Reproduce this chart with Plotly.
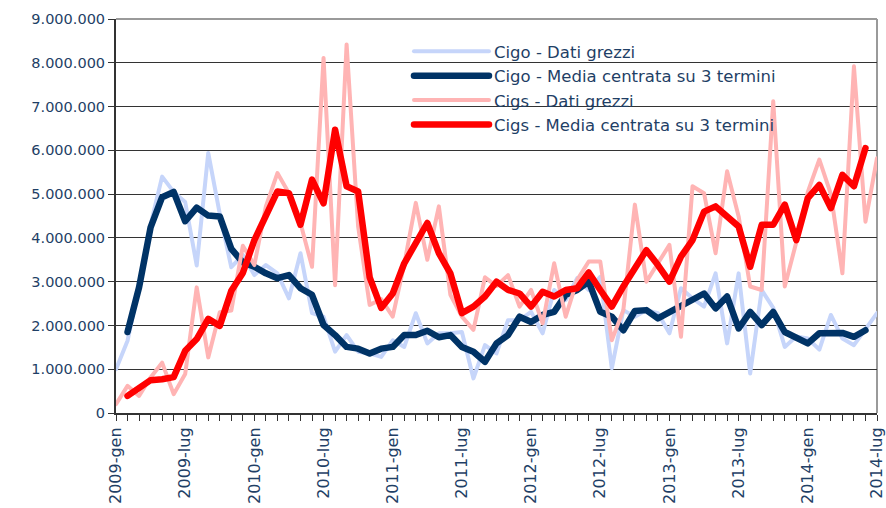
import plotly.graph_objects as go

mesi = ["gen", "feb", "mar", "apr", "mag", "giu", "lug", "ago", "set", "ott", "nov", "dic"]
categories = [f"{2009 + i // 12}-{mesi[i % 12]}" for i in range(67)]
tick_labels = [c if c.endswith("-gen") or c.endswith("-lug") else "" for c in categories]

cigo_raw = [1.0, 1.65, 2.9, 4.3, 5.4, 5.05, 4.82, 3.37, 5.94, 4.55, 3.33, 3.61,
            3.15, 3.38, 3.19, 2.62, 3.65, 2.28, 2.2, 1.4, 1.78, 1.4, 1.36, 1.28,
            1.66, 1.51, 2.28, 1.59, 1.82, 1.82, 1.85, 0.79, 1.55, 1.36, 2.12, 2.12,
            2.31, 1.82, 2.81, 2.58, 3.08, 2.81, 3.11, 1.02, 2.35, 2.2, 2.35, 2.28,
            1.82, 2.85, 2.62, 2.43, 3.19, 1.59, 3.19, 0.9, 2.81, 2.4, 1.51, 1.75,
            1.7, 1.45, 2.24, 1.70, 1.55, 1.93, 2.28]
cigo_ma = [None, 1.85, 2.87, 4.24, 4.93, 5.05, 4.38, 4.69, 4.51, 4.49, 3.75, 3.44,
           3.34, 3.19, 3.08, 3.15, 2.85, 2.7, 2.01, 1.78, 1.51, 1.47, 1.36, 1.47,
           1.51, 1.78, 1.78, 1.88, 1.73, 1.78, 1.51, 1.40, 1.17, 1.59, 1.78, 2.2,
           2.08, 2.24, 2.31, 2.7, 2.81, 3.0, 2.31, 2.2, 1.89, 2.33, 2.35, 2.16,
           2.31, 2.47, 2.62, 2.73, 2.39, 2.66, 1.93, 2.31, 2.01, 2.31, 1.85, 1.74,
           1.59, 1.82, 1.82, 1.83, 1.74, 1.89, None]
cigs_raw = [0.2, 0.62, 0.39, 0.81, 1.15, 0.43, 0.89, 2.87, 1.27, 2.3, 2.34, 3.82,
            3.38, 4.72, 5.48, 5.02, 4.34, 3.34, 8.11, 2.92, 8.42, 4.26, 2.47, 2.6,
            2.2, 3.4, 4.8, 3.5, 4.72, 2.7, 2.2, 1.9, 3.1, 2.9, 3.15, 2.43,
            2.81, 2.05, 3.42, 2.2, 3.04, 3.46, 3.46, 1.66, 2.35, 4.76, 3.0, 3.4,
            3.84, 1.74, 5.18, 5.02, 3.65, 5.52, 4.49, 2.89, 2.81, 7.12, 2.89, 3.9,
            5.05, 5.79, 5.0, 3.19, 7.92, 4.37, 5.82]
cigs_ma = [None, 0.39, 0.58, 0.75, 0.77, 0.82, 1.42, 1.69, 2.15, 1.99, 2.79, 3.2,
           3.95, 4.49, 5.06, 5.02, 4.3, 5.33, 4.79, 6.47, 5.18, 5.06, 3.1, 2.4,
           2.73, 3.42, 3.88, 4.34, 3.65, 3.19, 2.28, 2.43, 2.66, 3.0, 2.81, 2.73,
           2.43, 2.77, 2.66, 2.81, 2.85, 3.21, 2.81, 2.43, 2.89, 3.33, 3.72, 3.38,
           3.0, 3.57, 3.95, 4.6, 4.72, 4.49, 4.26, 3.34, 4.3, 4.3, 4.76, 3.95,
           4.91, 5.21, 4.68, 5.44, 5.18, 6.05, None]

def mil(v):
    return [None if x is None else x * 1e6 for x in v]

series = [
    ("Cigo - Dati grezzi", cigo_raw, "#c6d5fa", 4),
    ("Cigo - Media centrata su 3 termini", cigo_ma, "#003366", 6.5),
    ("Cigs - Dati grezzi", cigs_raw, "#ffb4b4", 4),
    ("Cigs - Media centrata su 3 termini", cigs_ma, "#ff0000", 6.5),
]

fig = go.Figure()
for name, vals, color, w in series:
    fig.add_trace(go.Scatter(x=categories, y=mil(vals), name=name, mode="lines",
                             line=dict(color=color, width=w), hoverinfo="skip"))

txt = "#1f3f66"
fig.update_layout(
    width=886, height=508,
    margin=dict(l=116, r=9, t=19, b=95, autoexpand=False),
    paper_bgcolor="white", plot_bgcolor="white",
    font=dict(family="DejaVu Sans", color=txt, size=15),
    separators=",.",
    showlegend=True,
    hovermode=False,
    legend=dict(x=0.385, y=0.962, xanchor="left", yanchor="top",
                bgcolor="rgba(0,0,0,0)", font=dict(size=16.5, color=txt),
                itemwidth=75, tracegroupgap=0, traceorder="normal"),
    xaxis=dict(type="category", range=[0, 66], tickvals=categories, ticktext=tick_labels,
               tickangle=-90, ticks="outside", ticklen=6, tickcolor="#333", tickwidth=1,
               showgrid=False, showline=True, linecolor="#333", linewidth=2, automargin=False,
               tickfont=dict(size=16, color=txt)),
    yaxis=dict(range=[0, 9e6], dtick=1e6, tickformat=",d", ticks="outside", ticklen=6,
               tickcolor="#333", tickwidth=1, showgrid=True, gridcolor="#333", gridwidth=1,
               zeroline=False, showline=True, linecolor="#333", linewidth=2, automargin=False,
               tickfont=dict(size=14.5, color=txt)),
    shapes=[
        dict(type="rect", xref="paper", yref="paper", x0=0.3417, x1=0.925, y0=0.695, y1=0.985,
             fillcolor="white", line=dict(width=0), layer="between"),
        dict(type="line", xref="paper", yref="paper", x0=0, x1=1, y0=1, y1=1,
             line=dict(color="#9a9a9a", width=2), layer="between"),
        dict(type="line", xref="paper", yref="paper", x0=1, x1=1, y0=0, y1=1,
             line=dict(color="#9a9a9a", width=2), layer="between"),
    ],
)

post = """
document.body.style.margin='0';document.body.style.padding='0';document.body.style.overflow='hidden';
function fixJoins(){document.querySelectorAll('path.js-line, .legendlines path').forEach(function(p){p.style.strokeLinejoin='round';p.style.strokeLinecap='round';});}
fixJoins(); setTimeout(fixJoins, 200);
"""
fig.write_html("out.html", post_script=post, config={"displayModeBar": False})
